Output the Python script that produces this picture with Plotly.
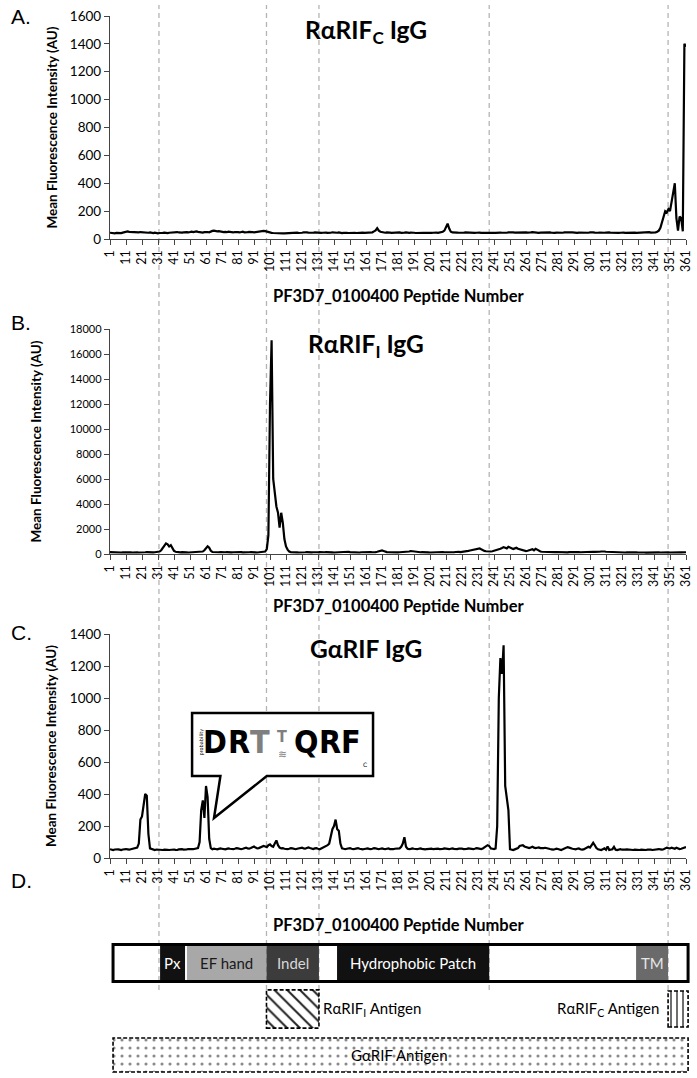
import plotly.graph_objects as go

W, H = 697, 1078
FONT = "Lato, Carlito, Calibri, sans-serif"

# peptide numbers along the array
peptides = list(range(1, 362))
tick_peptides = list(range(1, 362, 10))

# A. RaRIF_C IgG
rif_c_igg = [
    45, 42, 40, 41, 44, 43, 40, 42, 46, 50,  # 1-10
    52, 54, 51, 50, 53, 52, 50, 49, 48, 50,
    48, 47, 49, 46, 45, 47, 44, 43, 45, 42,
    41, 43, 42, 44, 46, 43, 42, 45, 47, 44,
    48, 52, 50, 47, 45, 46, 48, 50, 49, 47,
    50, 52, 49, 53, 55, 51, 48, 47, 46, 49,
    52, 50, 48, 54, 58, 60, 56, 55, 57, 53,
    52, 50, 51, 49, 53, 50, 48, 47, 50, 52,
    49, 47, 50, 52, 48, 46, 49, 51, 53, 50,
    48, 50, 47, 52, 55, 54, 58, 56, 52, 48,  # 91-100
    46, 44, 43, 42, 40, 41, 43, 42, 40, 41,
    42, 44, 43, 41, 42, 45, 44, 46, 43, 42,
    45, 47, 50, 48, 46, 44, 43, 45, 47, 45,
    48, 46, 44, 45, 47, 46, 44, 43, 45, 48,
    46, 44, 45, 47, 43, 42, 44, 46, 45, 43,
    44, 46, 48, 45, 43, 44, 47, 49, 46, 44,
    45, 47, 50, 52, 48, 55, 62, 78, 60, 52,
    48, 46, 45, 47, 49, 46, 44, 45, 48, 46,
    45, 47, 44, 43, 46, 48, 45, 44, 46, 47,
    45, 43, 44, 46, 48, 47, 45, 44, 43, 45,  # 191-200
    46, 44, 45, 47, 46, 44, 45, 48, 52, 60,
    85, 110, 75, 52, 47, 45, 44, 46, 45, 44,
    43, 45, 47, 46, 44, 43, 45, 46, 44, 45,
    47, 46, 44, 45, 48, 47, 45, 44, 46, 47,
    45, 44, 46, 48, 46, 45, 44, 43, 45, 47,
    49, 50, 48, 46, 47, 45, 44, 46, 48, 50,
    48, 46, 45, 47, 49, 47, 46, 45, 44, 46,
    47, 45, 44, 46, 48, 47, 45, 43, 44, 46,
    45, 44, 43, 45, 47, 46, 44, 45, 47, 48,
    46, 45, 44, 46, 45, 47, 48, 46, 44, 45,  # 291-300
    47, 49, 48, 46, 44, 45, 46, 44, 43, 45,
    46, 48, 47, 45, 44, 46, 45, 43, 44, 45,
    47, 46, 44, 45, 46, 44, 43, 45, 46, 44,
    45, 47, 46, 44, 45, 48, 50, 49, 46, 45,
    46, 48, 52, 60, 80, 120, 170, 200, 190, 215,
    200, 260, 340, 400, 150, 60, 160, 150, 55, 1400, 1380,  # 351-361
]

# B. RaRIF_I IgG
rif_i_igg = [
    150, 140, 130, 120, 140, 150, 130, 120, 130, 140,  # 1-10
    150, 160, 140, 130, 120, 140, 150, 130, 120, 140,
    130, 120, 140, 150, 130, 120, 110, 130, 140, 150,
    160, 200, 300, 500, 650, 850, 780, 600, 700, 400,
    250, 180, 150, 140, 130, 150, 160, 140, 130, 120,
    130, 140, 150, 130, 120, 140, 150, 160, 200, 300,
    450, 620, 500, 250, 160, 140, 130, 120, 140, 150,
    130, 120, 140, 150, 130, 120, 130, 140, 150, 130,
    120, 140, 150, 130, 120, 110, 130, 140, 150, 160,
    140, 130, 120, 140, 150, 160, 180, 200, 400, 1500,  # 91-100
    12000, 17100, 6000, 4800, 3800, 3300, 2100, 3300, 2500, 1200,
    600, 350, 200, 150, 130, 140, 150, 130, 120, 140,
    130, 120, 140, 150, 130, 120, 130, 140, 120, 130,
    140, 150, 130, 120, 140, 150, 130, 120, 140, 130,
    120, 130, 140, 150, 160, 140, 130, 150, 200, 180,
    150, 140, 130, 140, 150, 130, 120, 140, 150, 130,
    120, 130, 140, 150, 140, 130, 150, 180, 220, 260,
    280, 240, 180, 150, 140, 130, 140, 150, 130, 120,
    130, 140, 150, 140, 130, 150, 170, 200, 240, 220,
    180, 150, 140, 130, 140, 150, 130, 120, 140, 130,  # 191-200
    120, 130, 140, 150, 130, 120, 140, 150, 160, 140,
    130, 140, 150, 160, 150, 140, 160, 180, 170, 150,
    160, 180, 200, 220, 250, 280, 300, 320, 350, 380,
    420, 450, 380, 300, 250, 220, 200, 180, 200, 220,
    250, 280, 300, 350, 420, 480, 550, 500, 450, 580,
    520, 480, 400, 450, 500, 420, 380, 320, 280, 250,
    230, 260, 300, 350, 380, 300, 420, 350, 250, 200,
    180, 170, 160, 150, 160, 170, 150, 140, 150, 160,
    150, 140, 130, 150, 160, 140, 130, 150, 160, 170,
    180, 170, 160, 150, 140, 150, 160, 170, 180, 190,  # 291-300
    200, 190, 180, 170, 160, 170, 180, 200, 220, 200,
    180, 170, 160, 150, 160, 150, 140, 130, 140, 150,
    140, 130, 120, 130, 140, 130, 120, 130, 140, 130,
    120, 130, 140, 130, 120, 110, 120, 130, 140, 130,
    120, 130, 140, 130, 120, 130, 140, 150, 140, 130,
    120, 130, 140, 130, 120, 130, 140, 130, 120, 130, 140,  # 351-361
]

# C. GaRIF IgG
garif_igg = [
    55, 52, 50, 53, 55, 54, 52, 50, 53, 55,  # 1-10
    56, 54, 52, 55, 58, 60, 62, 65, 90, 240,
    260, 350, 400, 390, 150, 60, 55, 52, 50, 53,
    52, 50, 48, 50, 52, 53, 51, 50, 52, 55,
    53, 51, 50, 54, 56, 55, 53, 52, 54, 56,
    58, 56, 55, 57, 60, 62, 100, 300, 360, 250,
    450, 380, 120, 62, 55, 58, 56, 54, 57, 60,
    58, 55, 54, 57, 60, 58, 56, 55, 58, 62,
    60, 57, 55, 58, 62, 65, 60, 58, 62, 68,
    72, 65, 60, 62, 66, 70, 75, 72, 68, 80,  # 91-100
    85, 75, 70, 90, 110, 80, 65, 60, 62, 58,
    56, 55, 58, 62, 60, 57, 55, 58, 60, 62,
    65, 60, 58, 62, 66, 62, 58, 56, 60, 62,
    58, 55, 60, 65, 68, 72, 80, 90, 130, 180,
    200, 240, 180, 170, 90, 60, 58, 55, 58, 60,
    62, 58, 55, 57, 60, 62, 58, 55, 54, 56,
    58, 60, 57, 55, 58, 62, 60, 57, 55, 58,
    60, 57, 55, 58, 60, 56, 54, 55, 58, 60,
    62, 60, 70, 90, 130, 70, 58, 55, 57, 60,
    58, 56, 55, 58, 60, 57, 55, 54, 56, 58,  # 191-200
    60, 58, 55, 57, 60, 58, 56, 55, 57, 60,
    58, 56, 55, 58, 60, 57, 55, 56, 58, 60,
    58, 56, 55, 57, 60, 58, 56, 55, 58, 62,
    60, 58, 56, 60, 65, 70, 80, 75, 60, 58,
    56, 60, 200, 1000, 1250, 1150, 1330, 450, 380, 300,
    55, 52, 50, 54, 58, 62, 75, 80, 80, 72,
    68, 65, 62, 66, 70, 65, 62, 64, 66, 62,
    60, 62, 64, 60, 58, 56, 54, 52, 55, 58,
    56, 52, 50, 54, 58, 62, 68, 65, 60, 58,
    56, 54, 58, 60, 55, 52, 54, 58, 62, 70,  # 291-300
    65, 80, 95, 80, 62, 55, 52, 50, 55, 60,
    52, 72, 50, 52, 55, 70, 52, 50, 52, 55,
    52, 50, 52, 54, 52, 50, 48, 50, 52, 50,
    48, 50, 52, 50, 48, 50, 52, 54, 52, 50,
    52, 55, 58, 56, 54, 52, 55, 60, 65, 62,
    60, 65, 62, 58, 64, 60, 56, 58, 60, 62, 68,  # 351-361
]

# domain boundaries (peptide number) shown as dashed guides
domain_boundaries = [31.6, 98.8, 131.6, 238.0, 349.8]

# D. protein diagram
protein_start, protein_end = 2.9, 362.3
segment_names = ["Px", "EF hand", "Indel", "Hydrophobic Patch", "TM"]
segment_start = [32.3, 49.1, 98.8, 142.9, 329.8]
segment_end = [47.9, 98.8, 131.6, 238.0, 349.8]
segment_colors = ["#111111", "#a8a8a8", "#3c3c3c", "#111111", "#6a6a6a"]
segment_text_colors = ["white", "#1a1a1a", "#d8d8d8", "white", "#e6e6e6"]

antigen_start = [98.8, 349.8, 2.9]
antigen_end = [131.6, 362.3, 362.3]
antigen_patterns = ["\\", "|", "."]

# sequence logo in the callout
logo_letters = ["D", "R", "T", "T", "Q", "R", "F"]
logo_colors = ["black", "black", "#7f7f7f", "#7f7f7f", "black", "black", "black"]


def xp(px):
    return px / W


def yp(py):
    return 1 - py / H


assert len(rif_c_igg) == len(rif_i_igg) == len(garif_igg) == 361

fig = go.Figure()

panels = [
    {"y": rif_c_igg, "bottom": 239, "top": 16, "ymax": 1600, "dtick": 200, "tick_size": 13.5,
     "title": "RαRIF<sub>C</sub> IgG", "title_y": 31, "ytitle_x": 51, "xtitle_y": 296, "label": "A.", "label_y": 16},
    {"y": rif_i_igg, "bottom": 554, "top": 329, "ymax": 18000, "dtick": 2000, "tick_size": 11,
     "title": "RαRIF<sub>I</sub> IgG", "title_y": 345, "ytitle_x": 35, "xtitle_y": 606, "label": "B.", "label_y": 322},
    {"y": garif_igg, "bottom": 858, "top": 634, "ymax": 1400, "dtick": 200, "tick_size": 13.5,
     "title": "GαRIF IgG", "title_y": 648, "ytitle_x": 51, "xtitle_y": 925, "label": "C.", "label_y": 632},
]

annotations = []
for i, p in enumerate(panels, start=1):
    sfx = "" if i == 1 else str(i)
    fig.add_trace(go.Scatter(
        x=peptides, y=p["y"], mode="lines",
        line={"color": "black", "width": 2.2},
        xaxis="x" + sfx, yaxis="y" + sfx, hoverinfo="skip"
    ))
    fig.update_layout({
        "xaxis" + sfx: dict(
            domain=[xp(110), xp(686)], range=[1, 361], anchor="y" + sfx,
            tickmode="array", tickvals=tick_peptides, ticktext=[str(t) for t in tick_peptides],
            tickangle=-90, ticks="outside", ticklen=5, tickcolor="#444", tickwidth=1.2,
            showline=True, linecolor="#444", linewidth=1.3, showgrid=False, zeroline=False,
            tickfont={"family": FONT, "size": 12.5, "color": "black"}, automargin=False
        ),
        "yaxis" + sfx: dict(
            domain=[yp(p["bottom"]), yp(p["top"])], range=[0, p["ymax"]], anchor="x" + sfx,
            dtick=p["dtick"], tickformat="d", ticks="outside", ticklen=5, tickcolor="#444", tickwidth=1.2,
            showline=True, linecolor="#444", linewidth=1.3, showgrid=False, zeroline=False,
            tickfont={"family": FONT, "size": p["tick_size"], "color": "black"}, automargin=False
        ),
    })
    # panel title, axis titles and panel letter
    annotations.append(dict(text="<b>" + p["title"] + "</b>", x=xp(366), y=yp(p["title_y"]),
                            font={"family": FONT, "size": 24.5, "color": "black"}))
    annotations.append(dict(text="<b>Mean Fluorescence Intensity (AU)</b>", textangle=-90,
                            x=xp(p["ytitle_x"]), y=yp((p["bottom"] + p["top"]) / 2),
                            font={"family": FONT, "size": 13.5, "color": "black"}))
    annotations.append(dict(text="<b>PF3D7_0100400 Peptide Number</b>", x=xp(398), y=yp(p["xtitle_y"]),
                            font={"family": FONT, "size": 16.5, "color": "black"}))
    annotations.append(dict(text=p["label"], x=xp(21), y=yp(p["label_y"]),
                            font={"family": "Liberation Sans, Arial", "size": 21, "color": "black"}))

annotations.append(dict(text="D.", x=xp(21), y=yp(880),
                        font={"family": "Liberation Sans, Arial", "size": 21, "color": "black"}))

for a in annotations:
    a.update(xref="paper", yref="paper", showarrow=False, xanchor="center", yanchor="middle")

shapes = []
# dashed guide lines spanning all panels
for b in domain_boundaries:
    shapes.append(dict(type="line", xref="x", yref="paper", x0=b, x1=b, y0=yp(990), y1=yp(5),
                       line={"color": "#b4b4b4", "width": 1.3, "dash": "5px,4px"}, layer="below"))

# callout bubble with the sequence logo (panel C)
bx0, bx1, by0, by1 = 52.3, 165.4, 512, 906
tip_x, tip_y, base_l, base_r = 66, 250, 70, 99
shapes.append(dict(
    type="path", xref="x3", yref="y3",
    path=(f"M {bx0},{by1} L {bx1},{by1} L {bx1},{by0} L {base_r},{by0} L {tip_x},{tip_y} "
          f"L {base_l},{by0} L {bx0},{by0} Z"),
    fillcolor="white", line={"color": "black", "width": 2.5}
))
logo_x = [66.8, 81.6, 95.0, 108.5, 123.6, 138.6, 151.4]
for letter, color, lx in zip(logo_letters, logo_colors, logo_x):
    big = lx != 108.5
    annotations.append(dict(
        text="<b>" + letter + "</b>", x=lx, y=728 if big else 760, xref="x3", yref="y3",
        showarrow=False, xanchor="center", yanchor="middle",
        font={"family": "Liberation Sans Narrow, Arial Narrow, DejaVu Sans Condensed, Liberation Sans",
              "size": 32 if big else 16, "color": color}
    ))
annotations.append(dict(text="≋", x=108.5, y=650, xref="x3", yref="y3", showarrow=False,
                        font={"family": "DejaVu Sans", "size": 11, "color": "#7f7f7f"}))
annotations.append(dict(text="probability", x=57.6, y=725, xref="x3", yref="y3", showarrow=False,
                        textangle=-90, font={"family": "DejaVu Sans", "size": 5, "color": "black"}))
annotations.append(dict(text="C", x=160.5, y=585, xref="x3", yref="y3", showarrow=False,
                        font={"family": "DejaVu Sans", "size": 6, "color": "black"}))

# D. protein diagram on its own axes
fig.add_trace(go.Bar(
    y=[2.5] * len(segment_names), base=segment_start,
    x=[e - s for s, e in zip(segment_start, segment_end)],
    orientation="h", width=0.8, marker={"color": segment_colors, "line": {"width": 0}},
    xaxis="x4", yaxis="y4", hoverinfo="skip"
))
for name, s, e, tc in zip(segment_names, segment_start, segment_end, segment_text_colors):
    annotations.append(dict(text=name, x=(s + e) / 2, y=2.5, xref="x4", yref="y4", showarrow=False,
                            font={"family": FONT, "size": 15, "color": tc}))
shapes.append(dict(type="rect", xref="x4", yref="y4", x0=protein_start, x1=protein_end, y0=2.1, y1=2.9,
                   line={"color": "black", "width": 3}))

antigen_rows = [1.5, 1.5, 0.5]
antigen_heights = [0.83, 0.78, 0.74]
pattern_sizes = [9, 6, 8]
pattern_solid = [0.22, 0.22, 0.12]
pattern_colors = ["#222", "#222", "#8a8a8a"]
for s, e, row, hgt, pat, psz, sol, pc in zip(antigen_start, antigen_end, antigen_rows, antigen_heights,
                                              antigen_patterns, pattern_sizes, pattern_solid, pattern_colors):
    fig.add_trace(go.Bar(
        y=[row], base=[s], x=[e - s], orientation="h", width=hgt,
        marker={"color": "white", "line": {"width": 0},
                "pattern": {"shape": pat, "fgcolor": pc, "bgcolor": "white", "size": psz, "solidity": sol}},
        xaxis="x4", yaxis="y4", hoverinfo="skip"
    ))
    shapes.append(dict(type="rect", xref="x4", yref="y4", x0=s, x1=e, y0=row - hgt / 2, y1=row + hgt / 2,
                       line={"color": "black", "width": 1.6, "dash": "4px,2px"}))

annotations.append(dict(text="RαRIF<sub>I</sub> Antigen", x=133, y=1.5, xref="x4", yref="y4",
                        showarrow=False, xanchor="left", font={"family": FONT, "size": 15, "color": "black"}))
annotations.append(dict(text="RαRIF<sub>C</sub> Antigen", x=345.5, y=1.5, xref="x4", yref="y4",
                        showarrow=False, xanchor="right", font={"family": FONT, "size": 15, "color": "black"}))
annotations.append(dict(text="GαRIF Antigen", x=182, y=0.5, xref="x4", yref="y4",
                        showarrow=False, font={"family": FONT, "size": 15, "color": "black"}))

fig.update_layout(
    xaxis4=dict(domain=[xp(110), 1], range=[1, 1 + (W - 110) / 1.6], anchor="y4", visible=False),
    yaxis4=dict(domain=[0, yp(940)], range=[0, 3], anchor="x4", visible=False),
    width=W, height=H, margin={"l": 0, "r": 0, "t": 0, "b": 0},
    paper_bgcolor="white", plot_bgcolor="rgba(0,0,0,0)",
    showlegend=False, barmode="overlay", template="none",
    shapes=shapes, annotations=annotations,
    font={"family": FONT, "color": "black"}
)

# remove the page margin so the figure sits at the window's top-left corner
fig.write_html("out.html", config={"displayModeBar": False},
               post_script="document.body.style.margin='0px';document.body.style.overflow='hidden';")
